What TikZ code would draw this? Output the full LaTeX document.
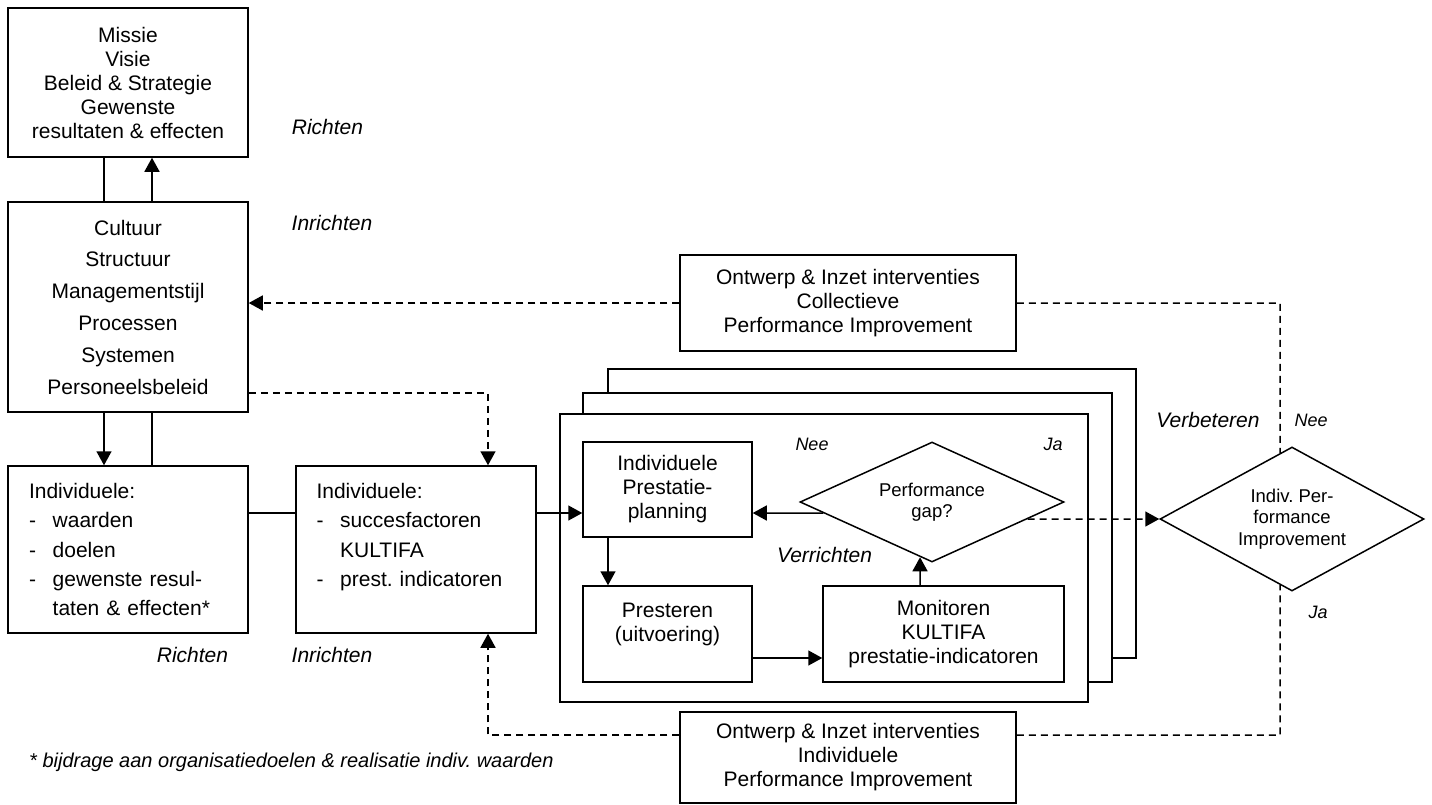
\documentclass[tikz,border=0pt]{standalone}
\usepackage{fontspec}
\setmainfont{Liberation Sans}
\usetikzlibrary{arrows.meta,shapes.geometric}
\frenchspacing
\begin{document}
\begin{tikzpicture}[x=1pt,y=-1pt,
  ln/.style={line width=1.5pt},
  box/.style={draw, line width=1.5pt, rectangle, inner sep=0pt, align=center, font=\fontsize{21}{24}\selectfont},
  framebox/.style={draw, line width=1.5pt, rectangle, fill=white, inner sep=0pt, minimum width=528, minimum height=289},
  dia/.style={draw, line width=1.5pt, diamond, inner sep=0pt, align=center, font=\fontsize{18.5}{21.5}\selectfont},
  tip/.style={-{Triangle[length=14pt,width=15pt]}},
  arr/.style={line width=1.5pt, tip},
  dsh/.style={line width=1.5pt, dash pattern=on 7pt off 5pt},
  lbl/.style={font=\fontsize{21}{24}\selectfont\itshape, inner sep=0pt},
  slbl/.style={font=\fontsize{18}{20}\selectfont\itshape, inner sep=0pt}
]
\useasboundingbox (0,0) rectangle (1432,804);

% helper coordinates
\coordinate (xL) at (104,0);
\coordinate (xR) at (152,0);
\coordinate (xd) at (488,0);
\coordinate (xp) at (608,0);
\coordinate (xm) at (920,0);
\coordinate (v1) at (1280,0);
\coordinate (v2) at (1280,804);
\coordinate (yr) at (0,513);
\coordinate (yr2) at (1432,513);
\coordinate (yq) at (0,658);
\coordinate (yb) at (0,393);
\coordinate (yl) at (0,735);

% left column
\node[box, minimum width=240, minimum height=149] (A) at (128,82.5)
  {Missie\\Visie\\Beleid \& Strategie\\Gewenste\\resultaten \& effecten};
\node[box, minimum width=240, minimum height=210, font=\fontsize{21}{31.8}\selectfont] (B) at (128,307)
  {Cultuur\\Structuur\\Managementstijl\\Processen\\Systemen\\Personeelsbeleid};
\node[box, minimum width=240, minimum height=167, text width=198, align=left, font=\fontsize{21}{29.3}\selectfont] (C) at (128,549.5)
  {Individuele:\\
   \makebox[23.7pt][l]{-}waarden\\
   \makebox[23.7pt][l]{-}doelen\\
   \makebox[23.7pt][l]{-}gewenste resul-\\
   \hspace*{23.7pt}taten \& effecten*};
\node[box, minimum width=240, minimum height=167, text width=199, align=left, font=\fontsize{21}{29.3}\selectfont] (D) at (416,549.5)
  {Individuele:\\
   \makebox[23.7pt][l]{-}succesfactoren\\
   \hspace*{23.7pt}KULTIFA\\
   \makebox[23.7pt][l]{-}prest. indicatoren\\
   \mbox{}};

% intervention boxes
\node[box, minimum width=336, minimum height=96] (col) at (848,303)
  {Ontwerp \& Inzet interventies\\Collectieve\\Performance Improvement};
\node[box, minimum width=336, minimum height=91] (ipibox) at (848,757.5)
  {Ontwerp \& Inzet interventies\\Individuele\\Performance Improvement};

% stacked frames
\node[framebox] (f3) at (872,513.5) {};
\node[framebox, minimum width=529] (f2) at (847.5,537.5) {};
\node[framebox, minimum height=288] (f1) at (824,558) {};

% inner cycle
\node[box, minimum width=169, minimum height=95] (plan) at (667.5,489.5)
  {Individuele\\Prestatie-\\planning};
\node[box, minimum width=169, minimum height=96] (pres) at (667.5,634)
  {Presteren\\(uitvoering)\\\mbox{}};
\node[box, minimum width=241, minimum height=96] (mon) at (943.5,634)
  {Monitoren\\KULTIFA\\prestatie-indicatoren};
\node[dia, minimum width=264, minimum height=120, aspect=2.2] (gap) at (932,502)
  {Performance\\gap?};
\node[dia, minimum width=264, minimum height=144, aspect=1.83] (ipi) at (1292,519)
  {Indiv. Per-\\formance\\Improvement};

% labels
\node[lbl] (r1) at (327.5,127) {Richten};
\node[lbl] (i1) at (332,223) {Inrichten};
\node[lbl] (r2) at (192.5,655) {Richten};
\node[lbl] (i2) at (332,655) {Inrichten};
\node[slbl] (nee1) at (812,444) {Nee};
\node[slbl] (ja1) at (1053,444) {Ja};
\node[lbl] (verr) at (824.5,555) {Verrichten};
\node[lbl] (verb) at (1208,420) {Verbeteren};
\node[slbl] (nee2) at (1311,420) {Nee};
\node[slbl] (ja2) at (1318,612) {Ja};
\node[font=\fontsize{20}{24}\selectfont\itshape, anchor=west, inner sep=0pt] (fn) at (29,762)
  {* bijdrage aan organisatiedoelen \& realisatie indiv. waarden};

% solid connectors
\draw[ln] (A.south -| xL) -- (B.north -| xL);
\draw[arr] (B.north -| xR) -- (A.south -| xR);
\draw[arr] (B.south -| xL) -- (C.north -| xL);
\draw[ln] (C.north -| xR) -- (B.south -| xR);
\draw[ln] (C.east |- yr) -- (D.west |- yr);
\draw[arr] (D.east |- yr) -- (plan.west |- yr);
\draw[arr] (plan.south -| xp) -- (pres.north -| xp);
\draw[arr] (pres.east |- yq) -- (mon.west |- yq);
\coordinate (m1) at (mon.north -| xm);
\coordinate (m2) at (mon.south -| xm);
\draw[arr] (m1) -- (intersection of gap.west--gap.south and m1--m2);
\coordinate (g1) at (intersection of gap.west--gap.south and yr--yr2);
\draw[arr] (g1) -- (plan.east |- yr);

% dashed connectors
\coordinate (g2) at (intersection of gap.east--gap.south and ipi.west--ipi.east);
\draw[dsh, tip] (g2) -- (ipi.west);
\draw[dsh, tip] (col.west) -- (B.east |- col.west);
\draw[dsh, tip] (B.east |- yb) -- (xd |- yb) -- (D.north -| xd);
\draw[dsh, tip] (ipibox.west |- yl) -- (xd |- yl) -- (D.south -| xd);
\draw[dsh] (col.east) -- (v1 |- col.east) -- (intersection of ipi.west--ipi.north and v1--v2);
\draw[dsh] (ipibox.east |- yl) -- (v1 |- yl) -- (intersection of ipi.west--ipi.south and v1--v2);
\end{tikzpicture}
\end{document}
